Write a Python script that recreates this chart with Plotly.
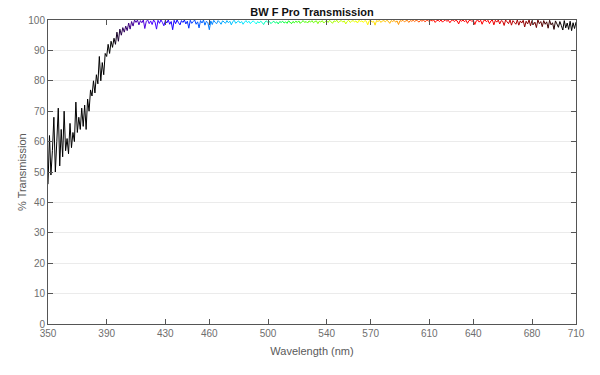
import plotly.graph_objects as go

# Wavelength grid (nm), 1 nm steps from 350 to 710
wavelength = list(range(350, 711))

trans_350_409 = [46, 62, 49, 57, 68, 50, 60, 71, 52, 64,
                 55, 70, 57, 61, 56, 66, 58, 63, 60, 73,
                 63, 68, 64, 71, 65, 72, 64, 74, 70, 77,
                 75, 80, 76, 82, 79, 88, 80, 86, 82, 89,
                 88, 92, 89, 93, 91, 94, 92, 96, 93, 97,
                 95, 97.5, 96, 98, 96.5, 99, 97, 99.5, 98, 100]
trans_410_509 = [99.2, 100, 98.4, 99.8, 99.1, 100, 97.2, 99.6, 100, 98.8,
                 99.7, 98.5, 100, 99.3, 97.0, 99.9, 98.9, 100, 99.2, 98.1,
                 99.8, 99.0, 100, 98.6, 99.5, 96.8, 99.9, 98.8, 100, 99.1,
                 98.4, 99.8, 99.2, 100, 98.7, 99.6, 97.3, 99.9, 98.9, 99.5,
                 100, 98.6, 99.4, 97.4, 99.8, 99.0, 100, 98.3, 99.6, 99.1,
                 96.8, 99.7, 98.5, 99.9, 99.2, 98.8, 99.8, 99.3, 98.6, 99.7,
                 99.4, 98.9, 99.8, 99.1, 99.6, 98.4, 99.5, 99.9, 98.9, 99.4,
                 99.7, 99.0, 99.5, 98.6, 99.3, 99.8, 99.1, 99.6, 98.8, 99.4,
                 99.7, 99.2, 98.7, 99.5, 99.0, 99.6, 99.2, 98.5, 99.4, 99.7,
                 99.1, 99.5, 98.8, 99.3, 99.6, 99.0, 99.4, 98.7, 99.5, 99.2]
trans_510_609 = [99.6, 99.0, 99.4, 98.9, 99.7, 99.3, 98.8, 99.5, 99.1, 99.6,
                 99.2, 99.7, 98.9, 99.4, 99.8, 99.2, 99.5, 99.0, 99.7, 99.3,
                 99.8, 99.1, 99.5, 99.7, 98.8, 99.6, 99.3, 99.8, 99.0, 99.5,
                 99.7, 99.2, 99.9, 99.4, 98.9, 99.7, 99.5, 99.9, 99.1, 99.6,
                 99.8, 99.3, 99.7, 98.7, 99.5, 99.9, 99.2, 99.6, 99.8, 99.4,
                 99.7, 99.0, 99.9, 99.5, 99.7, 99.2, 99.8, 99.6, 98.4, 99.7,
                 99.9, 99.3, 99.6, 98.3, 99.8, 99.5, 99.9, 99.2, 99.7, 99.8,
                 99.4, 99.9, 99.6, 98.9, 99.8, 99.5, 99.9, 99.3, 99.7, 98.5,
                 99.8, 99.6, 99.9, 99.4, 99.7, 99.9, 99.2, 99.8, 99.6, 99.9,
                 99.5, 99.9, 99.7, 99.3, 99.9, 99.6, 100, 99.4, 99.8, 99.9]
trans_610_710 = [99.4, 99.9, 99.7, 100, 99.2, 99.8, 99.9, 99.5, 100, 99.3,
                 99.8, 100, 99.6, 99.9, 99.1, 99.8, 100, 99.5, 99.9, 99.7,
                 98.7, 99.9, 99.6, 100, 99.4, 99.9, 98.9, 99.8, 100, 99.5,
                 99.9, 98.5, 99.7, 100, 99.3, 99.9, 98.6, 99.8, 100, 99.4,
                 99.9, 98.8, 99.7, 100, 98.4, 99.9, 99.3, 100, 98.7, 99.8,
                 99.6, 98.2, 100, 99.4, 98.8, 100, 98.3, 99.8, 99.2, 98.6,
                 100, 98.3, 99.7, 99.0, 99.9, 97.7, 99.6, 98.7, 100, 98.1,
                 99.8, 98.5, 99.3, 97.5, 100, 98.8, 99.5, 97.8, 99.8, 98.6,
                 99.4, 97.3, 99.9, 98.4, 99.1, 96.9, 99.7, 98.7, 97.6, 99.5,
                 98.2, 96.7, 99.8, 97.4, 99.0, 96.9, 99.6, 96.5, 99.1, 97.2, 99.3]
transmission = trans_350_409 + trans_410_509 + trans_510_609 + trans_610_710

x_ticks = [350, 390, 430, 460, 500, 540, 570, 610, 640, 680, 710]
y_ticks = list(range(0, 101, 10))


def wl_color(w):
    """Approximate visible-spectrum colour for a wavelength (nm)."""
    if w < 440:
        r, g, b = 0.45 * (440 - w) / 40, 0.0, 1.0
    elif w < 490:
        r, g, b = 0.0, (w - 440) / 50, 1.0
    elif w < 515:
        r, g, b = 0.0, 1.0, (515 - w) / 25
    elif w < 565:
        r, g, b = (w - 515) / 50, 1.0, 0.0
    elif w < 615:
        r, g, b = 1.0, (615 - w) / 50, 0.0
    else:
        r, g, b = 1.0, 0.0, 0.0
    if w < 395 or w > 700:
        f = 0.0
    elif w < 420:
        f = (w - 395) / 25
    elif w <= 650:
        f = 1.0
    else:
        f = (700 - w) / 50
    f = max(min(f, 1.0), 0.0)
    gam = 0.8
    conv = lambda c: int(round(255 * (c * f) ** gam)) if c * f > 0 else 0
    return "rgb(%d,%d,%d)" % (conv(r), conv(g), conv(b))


fig = go.Figure()
for i in range(len(wavelength) - 1):
    mid = (wavelength[i] + wavelength[i + 1]) / 2
    fig.add_trace(go.Scatter(
        x=[wavelength[i], wavelength[i + 1]],
        y=[transmission[i], transmission[i + 1]],
        mode="lines",
        line=dict(color=wl_color(mid), width=1),
        showlegend=False,
        hoverinfo="skip",
    ))

FONT = "Liberation Sans, Arial, Helvetica, sans-serif"
axis_font = dict(family=FONT, size=10, color="#6e6e6e")
title_font = dict(family=FONT, size=11, color="#5a5a5a")

fig.update_layout(
    width=600, height=375,
    margin=dict(l=48, r=24, t=20, b=51),
    paper_bgcolor="white",
    plot_bgcolor="white",
    title=dict(text="<b>BW F Pro Transmission</b>", x=0.5, xref="paper",
               y=1 - 12 / 375, yref="container", yanchor="middle",
               font=dict(family=FONT, size=11, color="#111111")),
    xaxis=dict(range=[350, 710], tickvals=x_ticks, ticktext=[str(v) for v in x_ticks],
               showgrid=False, zeroline=False, showline=True, linecolor="#555555",
               linewidth=1, mirror="ticks", ticks="inside", ticklen=5, tickcolor="#555555",
               tickfont=axis_font,
               title=dict(text="Wavelength (nm)", standoff=9, font=title_font)),
    yaxis=dict(range=[0, 100], tickvals=y_ticks, showgrid=True, gridcolor="#ebebeb",
               zeroline=False, showline=True, linecolor="#555555", linewidth=1,
               mirror="ticks", ticks="inside", ticklen=5, tickcolor="#555555",
               tickfont=axis_font),
    annotations=[dict(text="% Transmission", textangle=-90, showarrow=False,
                      xref="paper", yref="paper", x=(22 - 48) / 528, y=0.5,
                      xanchor="center", yanchor="middle", font=title_font)],
)

fig.write_html("out.html")
